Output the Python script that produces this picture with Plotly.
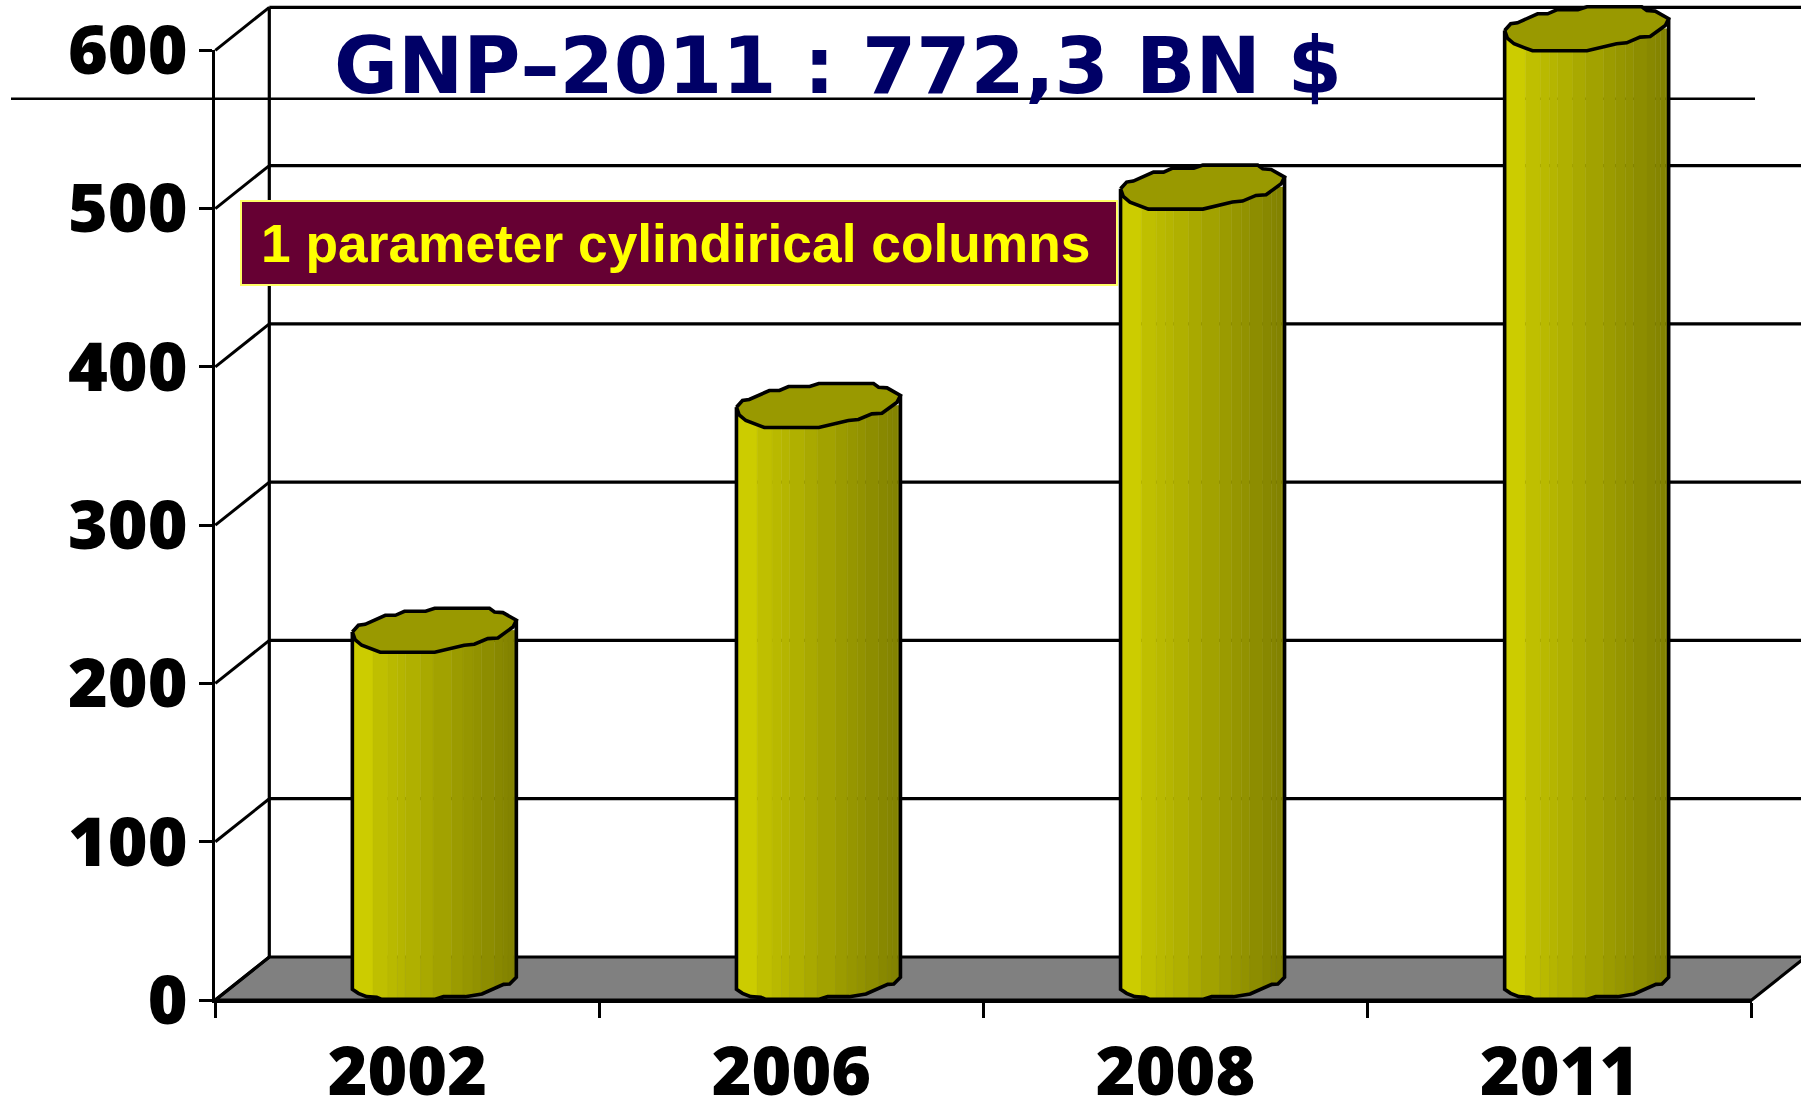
import numpy as np
import plotly.graph_objects as go

# ---- data ----
years = ["2002", "2006", "2008", "2011"]
values = [220, 362, 500, 600]
y_ticks = [0, 100, 200, 300, 400, 500, 600]
title_text = "GNP–2011 : 772,3 BN $"
box_text = "1 parameter cylindirical columns"

# ---- pixel layout ----
W, H = 1801, 1101
L, R, T, B = 215.3, 1751.7, 50.3, 1000.0
x_max = len(years)
y_max = 600
px_per_x = (R - L) / x_max
px_per_y = (B - T) / y_max

# ---- 3D projection in axis units ----
DX = 54 / px_per_x
DY = 43 / px_per_y
BAR_RX = 82 / px_per_x
BAR_RY = 22 / px_per_y

# Hand-traced outlines of the cap and of the foot of a column (normalised)
CAP_PTS = [(67,125),(85,105),(105,102),(165,75),(195,75),(222,63),(285,63),(312,54),
           (475,54),(490,65),(515,67),(535,78),(555,90),(545,110),(500,143),(470,145),
           (430,162),(400,165),(360,175),(312,186),(150,186),(120,175),(95,165),(75,148)]
FOOT_PTS = [(757,268),(775,280),(800,290),(830,292),(845,298),(1005,298),(1030,290),(1095,290),
            (1145,282),(1210,253),(1228,252),(1248,232)]
CAP_RIGHT = 12
cap_u = np.array([(p[0] - 311) / 244 for p in CAP_PTS])
cap_v = np.array([(120 - p[1]) / 66 for p in CAP_PTS])
arc_u = np.array([(p[0] - 1002.5) / 245.5 for p in FOOT_PTS])
arc_v = np.array([(978.5 - (900 + p[1] / 3)) / 22 for p in FOOT_PTS])

BAND_EDGES = [0, .126, .217, .274, .323, .416, .492, .604, .675, .736, .787, .868, .919, .949, .98, 1]
LEFT_RGB = np.array([204, 204, 0])
RIGHT_RGB = np.array([128, 128, 0])
CAP_COLOR = "#999900"
FLOOR_COLOR = "#808080"

fig = go.Figure()

def line(xs, ys, width=3, color="black"):
    fig.add_trace(go.Scatter(x=xs, y=ys, mode="lines", hoverinfo="skip",
                             showlegend=False, line=dict(color=color, width=width)))

# floor
fig.add_trace(go.Scatter(x=[0, x_max, x_max + DX, DX, 0], y=[0, 0, DY, DY, 0], mode="lines",
                         fill="toself", fillcolor=FLOOR_COLOR, hoverinfo="skip",
                         showlegend=False, line=dict(color="black", width=3.2)))
# back wall grid and side diagonals
for v in y_ticks:
    if v > 0:
        line([DX, x_max + DX], [v + DY, v + DY], width=3.2)
    line([0, DX], [v, v + DY], width=3)
line([DX, DX], [DY, y_max + DY], width=3.2)

# decorative rule across the slide
rule_y = (B - 98.7) / px_per_y
line([(11 - L) / px_per_x, (1755 - L) / px_per_x], [rule_y, rule_y], width=2.6)

# cylinders
for i, v in enumerate(values):
    cx = i + 0.5 + DX / 2
    base = DY / 2
    top = v + DY / 2
    for j in range(len(BAND_EDGES) - 1):
        a, b = -1 + 2 * BAND_EDGES[j], -1 + 2 * BAND_EDGES[j + 1]
        inner = arc_u[(arc_u > a) & (arc_u < b)]
        us = np.concatenate([[a], inner, [b]])
        vs = np.interp(us, arc_u, arc_v)
        xs = np.concatenate([[cx + a * BAR_RX], cx + us * BAR_RX, [cx + b * BAR_RX], [cx + a * BAR_RX]])
        ys = np.concatenate([[top], base + vs * BAR_RY, [top], [top]])
        t = (BAND_EDGES[j] + BAND_EDGES[j + 1]) / 2
        t = 0 if j == 0 else t
        c = (LEFT_RGB + (RIGHT_RGB - LEFT_RGB) * t).round().astype(int)
        col = f"rgb({c[0]},{c[1]},{c[2]})"
        fig.add_trace(go.Scatter(x=xs, y=ys, mode="lines", fill="toself", fillcolor=col,
                                 hoverinfo="skip", showlegend=False,
                                 line=dict(color=col, width=0.5)))
    # body outline
    xo = np.concatenate([[cx - BAR_RX], cx + arc_u * BAR_RX, [cx + BAR_RX]])
    yo = np.concatenate([[top + cap_v[0] * BAR_RY], base + arc_v * BAR_RY,
                         [top + cap_v[CAP_RIGHT] * BAR_RY]])
    line(xo, yo, width=3.6)
    # cap
    fig.add_trace(go.Scatter(x=np.append(cx + cap_u * BAR_RX, cx + cap_u[0] * BAR_RX),
                             y=np.append(top + cap_v * BAR_RY, top + cap_v[0] * BAR_RY),
                             mode="lines", fill="toself", fillcolor=CAP_COLOR,
                             hoverinfo="skip", showlegend=False, line=dict(color="black", width=3.6)))

# invisible trace that ties the values to the visible front axes
fig.add_trace(go.Scatter(x=[i + 0.5 for i in range(x_max)], y=values, xaxis="x2", yaxis="y2",
                         mode="markers", marker=dict(opacity=0), hoverinfo="skip", showlegend=False))

tick_font = dict(family="Open Sans", size=68, color="black", weight=800)

fig.update_layout(
    template="none",
    width=W, height=H, autosize=False, showlegend=False,
    margin=dict(l=0, r=0, t=0, b=0, pad=0, autoexpand=False),
    paper_bgcolor="white", plot_bgcolor="rgba(0,0,0,0)",
    shapes=[dict(type="rect", xref="paper", yref="paper", layer="above",
                 x0=241 / W, x1=1117 / W, y0=1 - 285 / H, y1=1 - 201 / H,
                 fillcolor="#660033", line=dict(color="#FFFF66", width=2))],
    annotations=[
        dict(text=f"<b>{title_text}</b>", x=838 / W, y=1 - 66 / H, xref="paper", yref="paper",
             xanchor="center", yanchor="middle", showarrow=False,
             font=dict(family="DejaVu Sans", size=78, color="#000066")),
        dict(text=f"<b>{box_text}</b>", x=675 / W, y=1 - 244 / H, xref="paper", yref="paper",
             xanchor="center", yanchor="middle", showarrow=False,
             font=dict(family="Liberation Sans", size=53.3, color="#FFFF00")),
    ],
    # full-canvas plane in the same axis units, carries the 3D box and the columns
    xaxis=dict(domain=[0, 1], range=[(0 - L) / px_per_x, (W - L) / px_per_x], visible=False,
               fixedrange=True),
    yaxis=dict(domain=[0, 1], range=[(B - H) / px_per_y, B / px_per_y], visible=False,
               fixedrange=True),
    # visible front axes
    xaxis2=dict(domain=[L / W, R / W], anchor="y2", type="linear", range=[0, x_max], showgrid=False,
                zeroline=False, showline=True, linecolor="black", linewidth=3.4,
                tickmode="array", tickvals=[i + 0.5 for i in range(x_max)], ticktext=years,
                ticks="", ticklabelstandoff=10, ticklabeloverflow="allow", automargin=False,
                tickfont=tick_font,
                minor=dict(tickmode="array", tickvals=list(range(x_max + 1)), ticks="outside",
                           ticklen=15, tickwidth=3.4, tickcolor="black", showgrid=False)),
    yaxis2=dict(domain=[1 - B / H, 1 - T / H], anchor="x2", range=[0, y_max], showgrid=False,
                zeroline=False, showline=True, linecolor="black", linewidth=3.4,
                tickmode="array", tickvals=y_ticks, ticks="outside", ticklen=13, tickwidth=3.4,
                tickcolor="black", ticklabelstandoff=-2, ticklabeloverflow="allow", automargin=False,
                tickfont=tick_font),
)

fig.write_html("out.html", config={"displayModeBar": False},
               post_script="document.body.style.margin='0';document.body.style.overflow='hidden';")
